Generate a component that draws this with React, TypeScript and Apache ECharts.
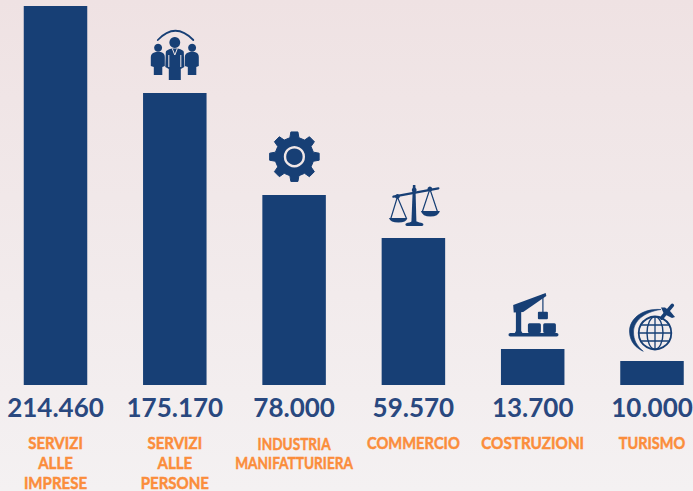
import React, { useEffect, useRef } from "react";
import * as echarts from "echarts";

const categoryLabels = ["SERVIZI\nALLE\nIMPRESE", "SERVIZI\nALLE\nPERSONE", "INDUSTRIA\nMANIFATTURIERA", "COMMERCIO", "COSTRUZIONI", "TURISMO"];
const valueLabels = ["214.460", "175.170", "78.000", "59.570", "13.700", "10.000"];
// Drawn bar heights (the original infographic is not to scale).
const barHeights = [379, 292, 190, 147, 36, 24];
const iconNames = ["", "people", "gear", "scale", "crane", "globe"];
const labelSqueeze = [0.86, 0.86, 0.78, 0.84, 0.87, 0.83];

const NAVY = "#173f75";
const TEXT_NAVY = "#29487f";
const ORANGE = "#fb8d3b";
const PAPER = "#f0e6e6";

const shapes = new Map<string, string>();
function P(d: string, style: any, z2 = 0) {
  let name = shapes.get(d);
  if (!name) {
    name = "iconShape" + shapes.size;
    shapes.set(d, name);
    echarts.graphic.registerShape(name, echarts.graphic.extendPath(d, {}) as any);
  }
  return { type: name, style, z2 };
}
const fill = { fill: NAVY };
const line = (w: number, c = NAVY) => ({ fill: "none", stroke: c, lineWidth: w, lineCap: "round", lineJoin: "round" });
const circle = (cx: number, cy: number, r: number, style: any = fill) => ({ type: "circle", shape: { cx, cy, r }, style });
const rect = (x: number, y: number, width: number, height: number, r = 1) => ({ type: "rect", shape: { x, y, width, height, r }, style: fill });

function gearPath(cx: number, cy: number, rOut: number, rIn: number, teeth: number) {
  const pts: string[] = [];
  const step = (Math.PI * 2) / teeth;
  for (let i = 0; i < teeth; i++) {
    const a = -Math.PI / 2 + i * step;
    const seq: [number, number][] = [
      [a - step * 0.3, rIn],
      [a - step * 0.18, rOut],
      [a + step * 0.18, rOut],
      [a + step * 0.3, rIn],
    ];
    seq.forEach(([t, r]) => pts.push(`${(cx + r * Math.cos(t)).toFixed(2)},${(cy + r * Math.sin(t)).toFixed(2)}`));
  }
  return "M" + pts.join(" L") + " Z";
}

function sidePerson(dx: number) {
  const b = (x: number) => (x + dx).toFixed(1);
  return P(
    `M${b(-24)},-36 Q${b(-24)},-40 ${b(-19)},-41 L${b(-14)},-41 Q${b(-10)},-40 ${b(-10)},-36 L${b(-10)},-27 L${b(-12.5)},-26 L${b(-12.5)},-18 L${b(-21)},-18 L${b(-21)},-26 L${b(-24)},-27 Z`,
    fill
  );
}

function iconChildren(name: string): any[] {
  const paper = { stroke: PAPER, fill: "none", lineWidth: 1 };
  switch (name) {
    case "people":
      return [
        P("M-17,-53 Q0.5,-71.5 18.5,-53", line(1.8)),
        circle(0, -50.5, 5.4),
        circle(-16.7, -45.3, 4),
        circle(17.3, -45.3, 4),
        sidePerson(0),
        sidePerson(34),
        P("M-9,-41 Q-9,-43 -3,-44.5 L3,-44.5 Q9,-43 9,-41 L9.5,-26 L6,-24 L6,-13 L-6,-13 L-6,-24 L-9.5,-26 Z", fill),
        P("M-2.6,-44.6 L0,-38 L2.6,-44.6", paper),
        P("M-6,-38 L-6,-26 M6,-38 L6,-26", paper),
      ];
    case "gear":
      return [
        P(gearPath(0.3, -38.3, 25, 19.5, 8), { ...fill, stroke: NAVY, lineWidth: 1, lineJoin: "round" }),
        circle(0.3, -38.3, 9.4, { fill: "none", stroke: PAPER, lineWidth: 2.4 }),
      ];
    case "scale":
      return [
        P("M-0.5,-53 L2,-53 L3,-16 L-2,-16 Z", fill),
        circle(0.8, -48, 2.4),
        P("M-8,-13.5 Q-8,-15 -4,-15.5 Q1,-18 6,-15.5 Q10,-15 10,-13.5 Q10,-12 7,-12 L-5,-12 Q-8,-12 -8,-13.5 Z", fill),
        P("M-20,-41.3 L25,-49.7", line(2.2)),
        P("M-22.5,-19.7 L-16,-41 L-7,-19.7", line(1.2)),
        P("M9,-26.5 L16.5,-49 L24,-26.5", line(1.2)),
        circle(-16, -41.5, 2.4),
        circle(16.5, -49, 2.4),
        P("M-24.5,-20 L-6,-20 Q-7,-15.5 -15,-15.5 Q-23,-15.5 -24.5,-20 Z", fill),
        P("M7.5,-27 L26.5,-27 Q25,-21.5 17,-21.5 Q9,-21.5 7.5,-27 Z", fill),
      ];
    case "crane":
      return [
        rect(-24.2, -16, 50, 3.6, 1.8),
        P("M-16.8,-41 L-11.5,-41 L-11.5,-18 L-9,-14 L-19,-14 L-16.8,-18 Z", fill),
        P("M-19.5,-44 L13,-56 L13.6,-53 L-9.5,-37 L-19,-36.5 Z", fill),
        P("M10.2,-54 L10.2,-37", line(1.2)),
        rect(5.2, -37.3, 10, 7.5, 1),
        rect(-4.8, -25.7, 13, 9.6, 1.5),
        rect(10.5, -25.7, 12.7, 9.6, 1.5),
      ];
    case "globe":
      return [
        P("M9,-51.5 C-11,-53 -23,-41 -22.5,-29 C-22,-19 -16,-13 -8.7,-9.7 C-15,-15 -18.5,-21 -18.5,-29 C-18.5,-40 -8,-49 9,-51.5 Z", { ...fill, stroke: NAVY, lineWidth: 0.6 }),
        circle(3, -28, 16.3, { fill: "none", stroke: NAVY, lineWidth: 1.8 }),
        { type: "ellipse", shape: { cx: 3, cy: -28, rx: 8, ry: 16.3 }, style: { fill: "none", stroke: NAVY, lineWidth: 1.4 } },
        P("M3,-44 L3,-12 M-13,-28 L19,-28 M-10.5,-36 L16.5,-36 M-10.5,-20 L16.5,-20", line(1.3)),
        P("M9.7,-43 L20.3,-55.7", { ...line(3.6), lineCap: "round" }),
        P("M9,-53.5 L13,-53.5 L18,-50 L23,-44 L20,-43 L12,-47 Z", fill),
      ];
    default:
      return [];
  }
}

const SHIFT = 20; // the chart is wider than the page so that the grid can run past both edges

function App() {
  const ref = useRef<HTMLDivElement>(null);
  useEffect(() => {
    const chart = echarts.init(ref.current!, undefined, { renderer: "svg" });
    chart.setOption({
      animation: false,
      backgroundColor: new echarts.graphic.LinearGradient(0, 0, 0, 1, [
        { offset: 0, color: "#efe2e3" },
        { offset: 1, color: "#f4f1f2" },
      ]),
      grid: { left: SHIFT - 4.15, width: 715.8, top: 6, height: 379 },
      xAxis: {
        type: "category",
        data: valueLabels,
        position: "bottom",
        axisLine: { show: false },
        axisTick: { show: false },
        axisLabel: {
          interval: 0,
          margin: 9,
          color: TEXT_NAVY,
          fontFamily: "Lato",
          fontWeight: "bold",
          fontSize: 26,
          lineHeight: 26,
        },
      },
      yAxis: { type: "value", min: 0, max: 379, show: false },
      series: [
        {
          type: "bar",
          data: barHeights,
          barWidth: 63.5,
          itemStyle: { color: NAVY },
        },
        {
          type: "custom",
          clip: false,
          data: barHeights.map((h, i) => [i, h]),
          encode: { x: 0, y: 1 },
          renderItem: (params: any, api: any) => {
            const name = iconNames[params.dataIndex];
            const [x, y] = api.coord([api.value(0), api.value(1)]);
            const [, y0] = api.coord([api.value(0), 0]);
            const lines = categoryLabels[params.dataIndex].split("\n");
            const offsetByRow = lines.length === 2 ? 58 : 57;
            const texts = lines.map((t: string, row: number) => ({
              type: "text",
              x: 0,
              y: offsetByRow + row * 19.8,
              scaleX: labelSqueeze[params.dataIndex],
              style: {
                text: t,
                x: 0,
                y: 0,
                align: "center",
                verticalAlign: "middle",
                fill: ORANGE,
                stroke: ORANGE,
                lineWidth: 0.5,
                fontFamily: "Lato",
                fontWeight: "bold",
                fontSize: 17.5,
              },
            }));
            return {
              type: "group",
              children: [
                { type: "group", x, y, children: name ? iconChildren(name) : [] },
                { type: "group", x, y: y0, children: texts },
              ],
            };
          },
          z: 5,
        },
      ],
    });
    return () => chart.dispose();
  }, []);
  return (
    <div style={{ position: "fixed", left: 0, top: 0, width: 693, height: 491, overflow: "hidden" }}>
      <div ref={ref} style={{ position: "absolute", left: -SHIFT, top: 0, width: 693 + 2 * SHIFT, height: 491 }} />
    </div>
  );
}

export default App;
